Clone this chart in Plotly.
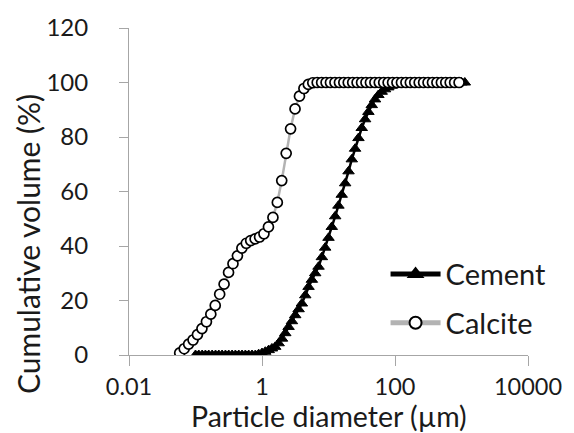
import plotly.graph_objects as go

# Calcite: particle diameter (µm) and cumulative volume (%)
calcite_d = [0.0579, 0.0676, 0.0788, 0.0919, 0.107, 0.125, 0.146, 0.170, 0.198, 0.231,
             0.269, 0.314, 0.366, 0.427, 0.498, 0.580, 0.676, 0.788, 0.919, 1.07,
             1.25, 1.46, 1.70, 1.98, 2.31, 2.69, 3.14, 3.66, 4.27, 4.97,
             5.80, 6.76, 7.88, 9.19, 10.7, 12.5, 14.6, 17.0, 19.8, 23.1,
             26.9, 31.4, 36.6, 42.7, 49.8, 58.0, 67.6, 78.8, 91.9, 107,
             125, 146, 170, 198, 231, 269, 314, 366, 427, 498,
             580, 676, 788, 919]
calcite_v = [0.8, 2.3, 4.0, 5.5, 7.5, 9.7, 12.2, 15.0, 18.2, 22.3,
             26.0, 30.3, 33.5, 36.4, 39.2, 41.0, 42.0, 42.6, 43.3, 44.5,
             47.0, 50.5, 56.0, 64.0, 74.0, 83.0, 90.3, 95.0, 97.8, 99.3,
             99.9, 100, 100, 100, 100, 100, 100, 100, 100, 100,
             100, 100, 100, 100, 100, 100, 100, 100, 100, 100,
             100, 100, 100, 100, 100, 100, 100, 100, 100, 100,
             100, 100, 100, 100]

# Cement: particle diameter (µm) and cumulative volume (%)
cement_d = [0.100, 0.112, 0.126, 0.141, 0.158, 0.178, 0.200, 0.224, 0.251, 0.282,
            0.316, 0.355, 0.398, 0.447, 0.501, 0.562, 0.631, 0.708, 0.794, 0.891,
            1.00, 1.12, 1.26, 1.41, 1.58, 1.78, 2.00, 2.24, 2.51, 2.82,
            3.16, 3.55, 3.98, 4.47, 5.01, 5.62, 6.31, 7.08, 7.94, 8.91,
            10.0, 11.2, 12.6, 14.1, 15.8, 17.8, 20.0, 22.4, 25.1, 28.2,
            31.6, 35.5, 39.8, 44.7, 50.1, 56.2, 63.1, 70.8, 79.4, 89.1,
            100, 112, 126, 141, 158, 178, 200, 224, 251, 282,
            316, 355, 398, 447, 501, 562, 631, 708, 794, 891,
            1000, 1122]
cement_v = [0, 0, 0, 0, 0, 0, 0, 0, 0, 0,
            0, 0, 0, 0, 0, 0, 0, 0, 0, 0.3,
            0.7, 1.2, 1.8, 2.4, 3.0, 4.3, 6.0, 8.0, 10.3, 12.4,
            14.6, 16.8, 18.9, 21.9, 25.0, 27.6, 30.0, 32.4, 35.9, 39.4,
            43.0, 47.0, 50.9, 54.8, 58.8, 63.0, 67.4, 71.8, 75.7, 79.6,
            83.3, 86.5, 89.2, 91.7, 93.8, 95.4, 96.6, 97.5, 98.2, 98.8,
            99.3, 99.7, 99.9, 100, 100, 100, 100, 100, 100, 100,
            100, 100, 100, 100, 100, 100, 100, 100, 100, 100,
            100, 100]

x_tickvals = [0.01, 1, 100, 10000]
x_ticktext = ["0.01", "1", "100", "10000"]
y_tickvals = [0, 20, 40, 60, 80, 100, 120]

FONT = "Lato"
TXT = "#1a1a1a"
AX = "#a6a6a6"

fig = go.Figure()
fig.add_trace(go.Scatter(
    x=cement_d, y=cement_v, name="Cement", mode="lines+markers",
    line=dict(color="black", width=2.5),
    marker=dict(symbol="triangle-up", size=10, color="black",
                line=dict(color="black", width=1)),
    legendgroup="a"))
fig.add_trace(go.Scatter(
    x=calcite_d, y=calcite_v, name="Calcite", mode="lines+markers",
    line=dict(color="#b3b3b3", width=2.5),
    marker=dict(symbol="circle", size=10, color="white",
                line=dict(color="black", width=1.7)),
    legendgroup="b"))

fig.update_layout(
    width=574, height=433,
    margin=dict(l=129, r=41, t=26, b=78),
    paper_bgcolor="white", plot_bgcolor="white",
    font=dict(family=FONT, size=24, color=TXT),
    showlegend=True,
    legend=dict(x=0.643, y=0.325, xanchor="left", yanchor="top",
                bgcolor="rgba(0,0,0,0)", font=dict(size=29, color=TXT),
                tracegroupgap=8, itemsizing="constant", itemwidth=50),
    xaxis=dict(type="log", range=[-2, 4], tickvals=x_tickvals, ticktext=x_ticktext,
               showgrid=False, zeroline=False, showline=True, linecolor=AX, linewidth=1,
               ticks="outside", ticklen=10, tickcolor=AX, tickwidth=1,
               tickfont=dict(size=23.5, color=TXT), ticklabelstandoff=1),
    yaxis=dict(range=[0, 120], tickvals=y_tickvals,
               showgrid=False, zeroline=False, showline=True, linecolor=AX, linewidth=1,
               ticks="outside", ticklen=9, tickcolor=AX, tickwidth=1,
               tickfont=dict(size=24, color=TXT), ticklabelstandoff=26),
    annotations=[
        dict(text="Particle diameter (µm)", xref="paper", yref="paper",
             x=0.5, y=-0.187, xanchor="center", yanchor="middle", showarrow=False,
             font=dict(size=28.5, color=TXT)),
        dict(text="Cumulative volume (%)", xref="paper", yref="paper",
             x=-0.2525, y=0.34, xanchor="center", yanchor="middle", showarrow=False,
             textangle=-90, font=dict(size=30, color=TXT)),
    ],
)

fig.write_html("out.html", config={"displayModeBar": False},
               post_script="document.body.style.margin='0px';document.body.style.overflow='hidden';")
